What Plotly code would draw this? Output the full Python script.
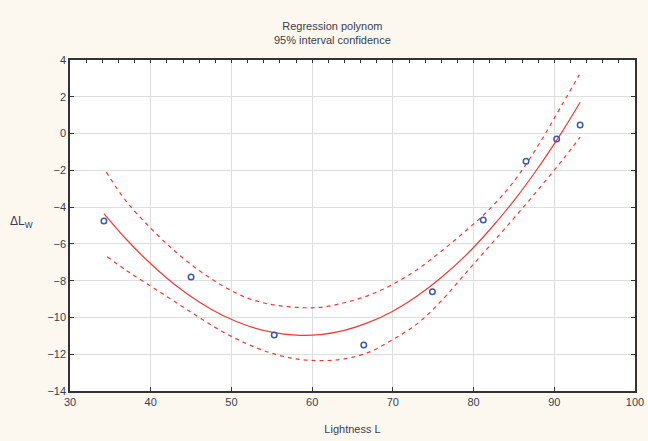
import plotly.graph_objects as go

# Observed data points
obs_x = [34.2, 45.0, 55.3, 66.4, 74.9, 81.2, 86.5, 90.3, 93.2]
obs_y = [-4.75, -7.8, -10.95, -11.5, -8.6, -4.7, -1.5, -0.3, 0.47]

# Regression polynomial
fit_x = [34.2, 37, 40, 43, 46, 49, 52, 55, 58, 61, 64, 67, 70, 73, 76, 79, 82, 85, 88, 91, 93.2]
fit_y = [-4.35, -5.76, -7.08, -8.22, -9.16, -9.91, -10.45, -10.80, -10.96, -10.93, -10.70,
         -10.27, -9.66, -8.84, -7.83, -6.64, -5.23, -3.65, -1.86, 0.12, 1.70]

# Upper 95% confidence bound
up_x = [34.5, 37, 40, 43, 46, 49, 52, 55, 58, 61, 64, 67, 70, 73, 76, 79, 82, 85, 88, 91, 93.1]
up_y = [-2.1, -3.7, -5.15, -6.4, -7.45, -8.3, -8.95, -9.3, -9.45, -9.45, -9.2, -8.8, -8.2,
        -7.4, -6.4, -5.3, -4.1, -2.6, -0.65, 1.6, 3.2]

# Lower 95% confidence bound
lo_x = [34.6, 37, 40, 43, 46, 49, 52, 55, 58, 61, 64, 67, 70, 73, 76, 79, 82, 85, 88, 91, 93.2]
lo_y = [-6.7, -7.45, -8.3, -9.15, -10.0, -10.8, -11.45, -11.95, -12.25, -12.35, -12.25, -11.9,
        -11.2, -10.35, -9.1, -7.6, -6.1, -4.6, -3.05, -1.45, -0.2]

x_ticks = [30, 40, 50, 60, 70, 80, 90, 100]
y_ticks = [4, 2, 0, -2, -4, -6, -8, -10, -12, -14]

RED = "#f03a3a"
BLUE = "#3a5aa8"
FONT = "Liberation Sans, Arial, sans-serif"
TXT = "#3c3c50"
BG = "#fdf8ef"

fig = go.Figure()
fig.add_trace(go.Scatter(x=up_x, y=up_y, mode="lines", line=dict(color=RED, width=1.2, dash="4px,4px", shape="spline"), hoverinfo="skip"))
fig.add_trace(go.Scatter(x=lo_x, y=lo_y, mode="lines", line=dict(color=RED, width=1.2, dash="4px,4px", shape="spline"), hoverinfo="skip"))
fig.add_trace(go.Scatter(x=fit_x, y=fit_y, mode="lines", line=dict(color=RED, width=1.2, shape="spline")))
fig.add_trace(go.Scatter(x=obs_x, y=obs_y, mode="markers",
                         marker=dict(symbol="circle-open", size=5.5, color=BLUE, line=dict(width=1.5, color=BLUE))))
# invisible trace to activate the top axis (minor ticks every 2)
fig.add_trace(go.Scatter(x=[30], y=[4], xaxis="x2", mode="markers", marker=dict(opacity=0), hoverinfo="skip"))

fig.update_layout(
    width=648, height=441,
    margin=dict(l=70, r=13, t=60, b=50),
    paper_bgcolor=BG,
    plot_bgcolor="white",
    showlegend=False,
    font=dict(family=FONT, size=11, color=TXT),
    xaxis=dict(range=[30, 100], tickvals=x_ticks, showgrid=True, gridcolor="#dedede", gridwidth=1,
               zeroline=False, showline=True, linecolor="#333333", linewidth=1.5, mirror=True,
               ticks="inside", ticklen=4, tickcolor="#333333", automargin=False,
               title=dict(text="Lightness L", font=dict(size=11, color=TXT), standoff=18)),
    xaxis2=dict(range=[30, 100], overlaying="x", side="top", dtick=2, tick0=30, ticks="inside",
                ticklen=3, tickcolor="#333333", showticklabels=False, showgrid=False, zeroline=False,
                showline=False, automargin=False),
    yaxis=dict(range=[-14, 4], tickvals=y_ticks, showgrid=True, gridcolor="#dedede", gridwidth=1,
               zeroline=False, showline=True, linecolor="#333333", linewidth=1.5, mirror="ticks",
               ticks="inside", ticklen=4, tickcolor="#333333", automargin=False),
    annotations=[
        dict(text="Regression polynom<br>95% interval confidence", xref="paper", yref="paper",
             x=0.5 - 0.035, y=1.0, yshift=12, xanchor="center", yanchor="bottom", showarrow=False,
             font=dict(size=11, color=TXT), align="center"),
        dict(text="ΔL<sub>W</sub>", xref="paper", yref="paper", x=-0.085, y=0.51,
             xanchor="center", yanchor="middle", showarrow=False, font=dict(size=12, color=TXT)),
    ],
)

fig.write_html("out.html", config={"displayModeBar": False},
               post_script="document.body.style.margin='0';document.body.style.background='%s';"
                           "document.body.style.overflow='hidden';" % BG)
